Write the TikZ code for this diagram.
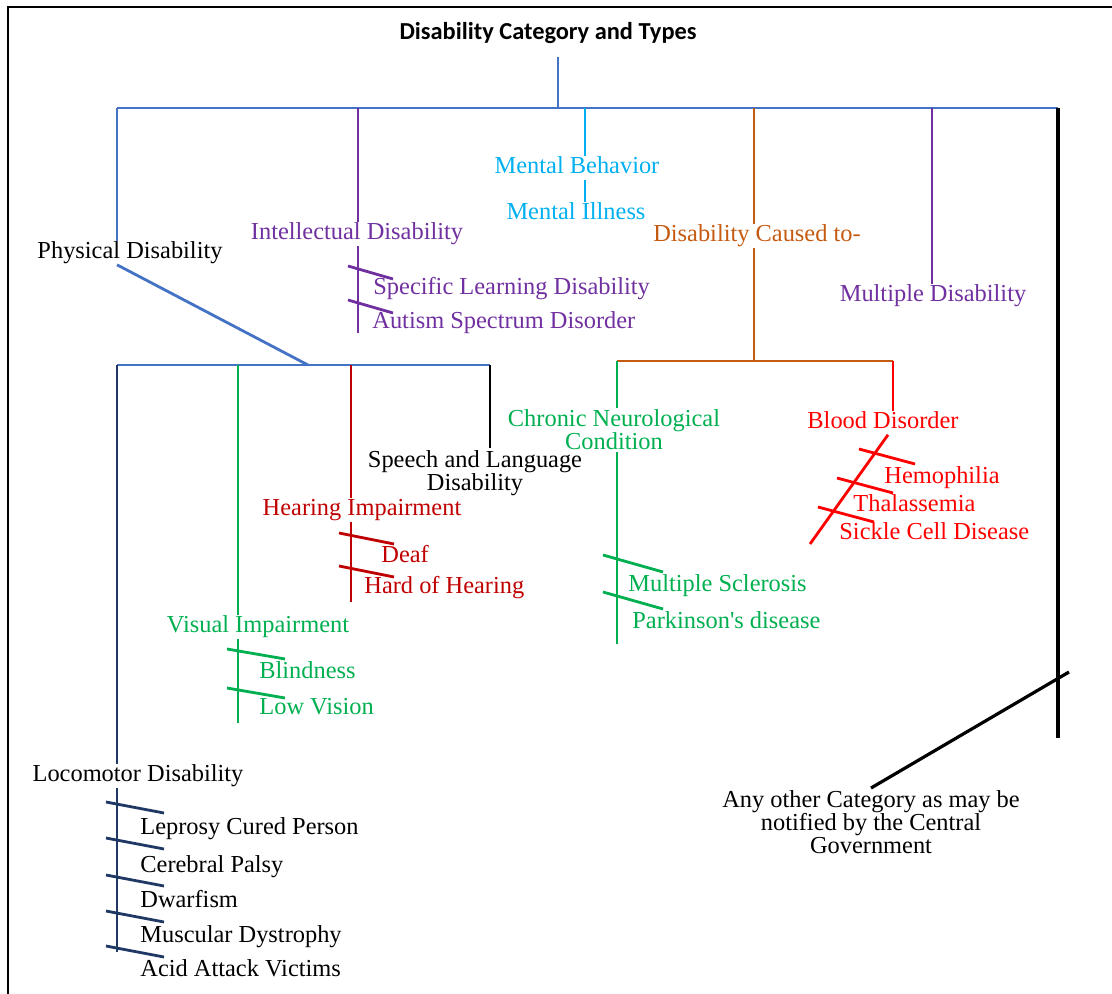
\documentclass[tikz,border=0pt]{standalone}
\usepackage{fontspec}
\setmainfont{Liberation Serif}
\newfontfamily\titlefont{Carlito}
\definecolor{phys}{HTML}{4472C4}
\definecolor{intel}{HTML}{7030A0}
\definecolor{ment}{HTML}{00B0F0}
\definecolor{cause}{HTML}{C55A11}
\definecolor{neuro}{HTML}{00B050}
\definecolor{hear}{HTML}{C00000}
\definecolor{blood}{HTML}{FF0000}
\definecolor{loco}{HTML}{1F3864}
\tikzset{lbl/.style={inner sep=1pt, text height=1.6ex, text depth=0.45ex,
  font=\fontsize{12.2}{11.5}\selectfont}}
\tikzset{lbltwo/.style={inner sep=1pt, align=center,
  font=\fontsize{12.2}{11.5}\selectfont}}
\tikzset{item/.style={lbl, anchor=west}}
\tikzset{branch/.style={line width=1.4pt}}

\begin{document}
\begin{tikzpicture}[x=0.5pt,y=-0.5pt]
\useasboundingbox (0,0) rectangle (1112,994);
\draw[line width=1.1pt] (8,994) -- (8,7) -- (1112,7);

\node[font=\titlefont\bfseries\fontsize{12.2}{14}\selectfont] (title) at (548,33) {Disability Category and Types};

\coordinate (root) at (558,108);
\foreach \n/\x in {b1/117,b2/358,b3/585,b4/754,b5/932,b6/1058}
  \coordinate (\n) at (\x,108);
\draw[branch,phys] (root |- title.south) ++(0,6) -- (root);
\draw[branch,phys] (b1) -- (b6);

% first level
\node[lbl] (phys) at (130,253) {Physical Disability};
\node[lbl,text=intel] (intel) at (357,234) {Intellectual Disability};
\node[lbl,text=ment] (mbeh) at (577,168) {Mental Behavior};
\node[lbl,text=ment] (mill) at (576,214) {Mental Illness};
\node[lbl,text=cause] (cause) at (757,236) {Disability Caused to-};
\node[lbl,text=intel] (multi) at (933,296) {Multiple Disability};
\node[lbltwo] (other) at (871,822) {Any other Category as may be\\notified by the Central\\Government};

\draw[branch,phys] (b1) -- (b1 |- phys.north);
\draw[branch,intel] (b2) -- (b2 |- intel.north);
\draw[branch,ment] (b3) -- (b3 |- mbeh.north);
\draw[branch,ment] (b3 |- mbeh.south) -- (b3 |- mill.north);
\draw[branch,cause] (b4) -- (b4 |- cause.north);
\draw[branch,intel] (b5) -- (b5 |- multi.north);
\coordinate (e6) at (1058,738);
\coordinate (oth) at (1069,672);
\draw[line width=1.6pt] (b6) -- (e6);
\draw[line width=1.6pt] (oth) -- (other.north);

% intellectual
\coordinate (e2) at (358,333);
\draw[branch,intel] (b2 |- intel.south) -- (e2);
\foreach \y in {266,300}
  \draw[branch,intel] (348,\y) -- ++(45,13);
\node[item,text=intel] (sld) at (371,289) {Specific Learning Disability};
\node[item,text=intel] (asd) at (370,323) {Autism Spectrum Disorder};

% physical
\coordinate (pj) at (308,365);
\foreach \n/\x in {c1/117,c2/238,c3/351,c4/490}
  \coordinate (\n) at (\x,365);
\draw[branch,phys] (b1 |- phys.south) -- (pj);
\draw[branch,phys] (c1) -- (c4);

\node[lbltwo] (speech) at (475,473) {Speech and Language\\Disability};
\draw[branch] (c4) -- (c4 |- speech.north);

\node[lbl,text=hear] (hear) at (362,510) {Hearing Impairment};
\coordinate (e3) at (351,602);
\draw[branch,hear] (c3) -- (c3 |- hear.north);
\draw[branch,hear] (c3 |- hear.south) -- (e3);
\foreach \y in {533,566}
  \draw[branch,hear] (339,\y) -- ++(55,11);
\node[item,text=hear] (deaf) at (379,557) {Deaf};
\node[item,text=hear] (hoh) at (362,588) {Hard of Hearing};

\node[lbl,text=neuro] (vis) at (258,627) {Visual Impairment};
\coordinate (ev) at (238,723);
\draw[branch,neuro] (c2) -- (c2 |- vis.north);
\draw[branch,neuro] (c2 |- vis.south) -- (ev);
\foreach \y in {649,688}
  \draw[branch,neuro] (227,\y) -- ++(58,10);
\node[item,text=neuro] (blind) at (257,673) {Blindness};
\node[item,text=neuro] (lowv) at (257,709) {Low Vision};

\node[lbl] (loco) at (138,776) {Locomotor Disability};
\coordinate (el) at (117,952);
\draw[branch,loco] (c1) -- (c1 |- loco.north);
\draw[branch,loco] (c1 |- loco.south) -- (el);
\foreach \y in {802,838,875,911,946}
  \draw[branch,loco] (106,\y) -- ++(58,11);
\node[item] (lep) at (138,829) {Leprosy Cured Person};
\node[item] (cp) at (138,867) {Cerebral Palsy};
\node[item] (dwarf) at (138,902) {Dwarfism};
\node[item] (md) at (138,937) {Muscular Dystrophy};
\node[item] (acid) at (138,971) {Acid Attack Victims};

% caused to
\coordinate (d0) at (754,361);
\coordinate (d1) at (617,361);
\coordinate (d2) at (893,361);
\draw[branch,cause] (b4 |- cause.south) -- (d0);
\draw[branch,cause] (d1) -- (d2);

\node[lbltwo,text=neuro] (neuro) at (614,430) {Chronic Neurological\\Condition};
\coordinate (en) at (617,644);
\draw[branch,neuro] (d1) -- (d1 |- neuro.north);
\draw[branch,neuro] (d1 |- neuro.south) -- (en);
\foreach \y in {555,592}
  \draw[branch,neuro] (603,\y) -- ++(60,17);
\node[item,text=neuro] (ms) at (626,586) {Multiple Sclerosis};
\node[item,text=neuro] (pd) at (630,623) {Parkinson\textquotesingle s disease};

\node[lbl,text=blood] (blood) at (883,423) {Blood Disorder};
\coordinate (eb) at (810,544);
\draw[branch,blood] (d2) -- (d2 |- blood.north);
\draw[branch,blood] ([xshift=2.5pt]blood.south) -- (eb);
\foreach \x/\y in {859/449,837/478,818/507}
  \draw[branch,blood] (\x,\y) -- ++(56,15);
\node[item,text=blood] (hemo) at (882,478) {Hemophilia};
\node[item,text=blood] (thal) at (851,506) {Thalassemia};
\node[item,text=blood] (scd) at (837,534) {Sickle Cell Disease};

\end{tikzpicture}
\end{document}
